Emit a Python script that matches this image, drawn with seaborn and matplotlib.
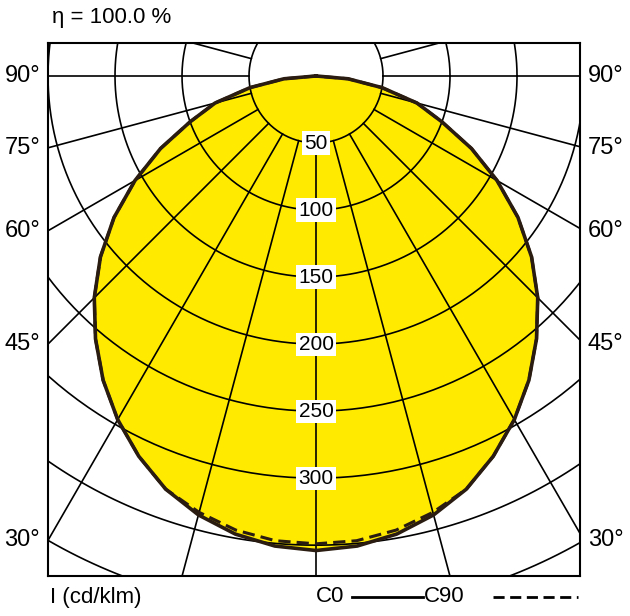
import numpy as np
import pandas as pd
import matplotlib
matplotlib.use("Agg")
import matplotlib.pyplot as plt
import seaborn as sns
from matplotlib.lines import Line2D

# Luminous intensity (cd/klm), gamma 0..90 deg
gamma = [0, 5, 10, 15, 20, 25, 30, 35, 40, 45, 50, 55, 60, 65, 70, 75, 80, 85, 90]
i_c0 = [354, 352, 347, 339, 328, 313, 296, 277, 256, 234, 210, 184, 156, 128, 100, 78, 50, 24, 0]
i_c90 = [349, 348, 344, 337, 328, 313, 296, 277, 256, 234, 210, 184, 156, 128, 100, 78, 50, 24, 0]

ring_values = [50, 100, 150, 200, 250, 300, 350, 400]
ring_labels = [50, 100, 150, 200, 250, 300]
side_angles = [90, 75, 60, 45, 30]
spoke_angles = list(range(0, 181, 15))

FONT = ["Liberation Sans Narrow", "Liberation Sans", "DejaVu Sans"]
YELLOW = "#ffea00"
CURVE = "#2a1c10"


def to_xy(g, vals):
    g = np.radians(np.concatenate([-np.array(g)[::-1], np.array(g)[1:]]))
    r = np.concatenate([np.array(vals)[::-1], np.array(vals)[1:]])
    return pd.DataFrame({"x": r * np.sin(g), "y": -r * np.cos(g), "order": np.arange(len(r))})


fig = plt.figure(figsize=(6.3, 6.16), dpi=100)
ax = fig.add_axes([48 / 630, 40 / 616, 532 / 630, 533 / 616])
ax.set_xlim(-200, 197)
ax.set_ylim(-373, 24.6)
ax.set_xticks([])
ax.set_yticks([])
for s in ax.spines.values():
    s.set_linewidth(1.5)

df0 = to_xy(gamma, i_c0)
df90 = to_xy(gamma, i_c90)
ax.fill(df0["x"], df0["y"], color=YELLOW, zorder=1)

# grid: rings and spokes
t = np.linspace(0, 2 * np.pi, 400)
for r in ring_values:
    ax.plot(r * np.cos(t), r * np.sin(t), color="black", lw=1.2, zorder=2)
for a in spoke_angles:
    ar = np.radians(a)
    ax.plot([50 * np.sin(ar), 700 * np.sin(ar)], [-50 * np.cos(ar), -700 * np.cos(ar)],
            color="black", lw=1.2, zorder=2)
    if a not in (0, 180):
        ax.plot([-50 * np.sin(ar), -700 * np.sin(ar)], [-50 * np.cos(ar), -700 * np.cos(ar)],
                color="black", lw=1.2, zorder=2)

sns.lineplot(data=df90, x="x", y="y", sort=False, estimator=None, color=CURVE,
             lw=2.2, linestyle=(0, (4, 2)), ax=ax, zorder=3)
sns.lineplot(data=df0, x="x", y="y", sort=False, estimator=None, color=CURVE,
             lw=2.6, ax=ax, zorder=4)
ax.set_xlabel("")
ax.set_ylabel("")

for v in ring_labels:
    ax.text(0, -v, str(v), ha="center", va="center", fontsize=15, family=FONT, zorder=5,
            bbox=dict(facecolor="white", edgecolor="none", pad=1.5))

# angle labels on both sides
for a in side_angles:
    y = 0 if a == 90 else -200 / np.tan(np.radians(a))
    y = max(y, -362)
    ax.text(-0.015, y, f"{a}°", transform=ax.get_yaxis_transform(), ha="right", va="center",
            fontsize=17, family=FONT, clip_on=False)
    ax.text(1.015, y, f"{a}°", transform=ax.get_yaxis_transform(), ha="left", va="center",
            fontsize=17, family=FONT, clip_on=False)

fig.text(52 / 630, 1 - 18 / 616, "η = 100.0 %", ha="left", va="center", fontsize=16, family=FONT)
fig.text(50 / 630, 1 - 597 / 616, "I (cd/klm)", ha="left", va="center", fontsize=16, family=FONT)
fig.text(316 / 630, 1 - 597 / 616, "C0", ha="left", va="center", fontsize=16, family=FONT)
fig.text(424 / 630, 1 - 597 / 616, "C90", ha="left", va="center", fontsize=16, family=FONT)
fig.add_artist(Line2D([352 / 630, 423 / 630], [1 - 597 / 616] * 2, color="black", lw=2))
fig.add_artist(Line2D([493 / 630, 578 / 630], [1 - 597 / 616] * 2, color="black", lw=2,
                      linestyle=(0, (4, 2))))

fig.savefig("out.png", dpi=100)
